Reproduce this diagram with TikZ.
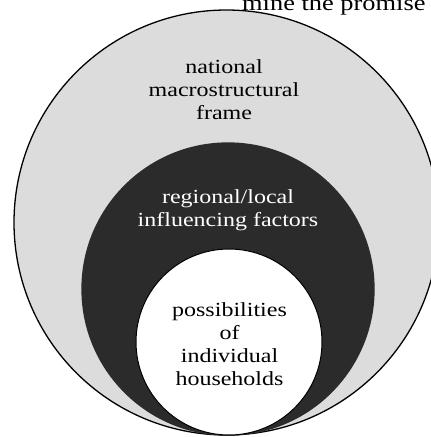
\documentclass[tikz,border=0pt]{standalone}
\usepackage{fontspec}
\usepackage{graphicx}
\setmainfont{Liberation Serif}
\newcommand{\widetxt}[1]{\scalebox{1.2}[1]{#1}}
\definecolor{outergray}{HTML}{DCDCDC}
\definecolor{darkfill}{HTML}{2B2B2B}
\tikzset{
  lbl/.style={align=center, font=\fontsize{20}{23.2}\selectfont, inner sep=0pt, anchor=base},
  ring/.style={circle, inner sep=0pt, line width=1.3pt},
}
\begin{document}
\begin{tikzpicture}[x=1pt,y=-1pt]
\useasboundingbox (0,0) rectangle (431,437);
\clip (0,0) rectangle (431,437);
\fill[white] (0,0) rectangle (431,437);
\node[ring, draw=black, fill=outergray, minimum size=425pt] (outer) at (226.5,222.5) {};
\node[ring, draw=darkfill, fill=darkfill, minimum size=292pt] (middle) at (228,289) {};
\node[ring, draw=black, line width=1pt, fill=white, minimum size=186pt] (inner) at (229,342) {};
\node[lbl, anchor=base west, font=\fontsize{22}{24}\selectfont] (top) at (242,10) {\widetxt{mine the promise}};
\node[lbl] (nat1) at (224,73) {\widetxt{national}};
\node[lbl] (nat2) at (224,96.5) {\widetxt{macrostructural}};
\node[lbl] (nat3) at (224,119.5) {\widetxt{frame}};
\node[lbl, text=white] (reg1) at (228,203) {\widetxt{regional/local}};
\node[lbl, text=white] (reg2) at (228,226) {\widetxt{influencing factors}};
\node[lbl] (pos1) at (229.5,316) {\widetxt{possibilities}};
\node[lbl] (pos2) at (229.5,339) {\widetxt{of}};
\node[lbl] (pos3) at (229.5,362) {\widetxt{individual}};
\node[lbl] (pos4) at (229.5,385) {\widetxt{households}};
\end{tikzpicture}
\end{document}
